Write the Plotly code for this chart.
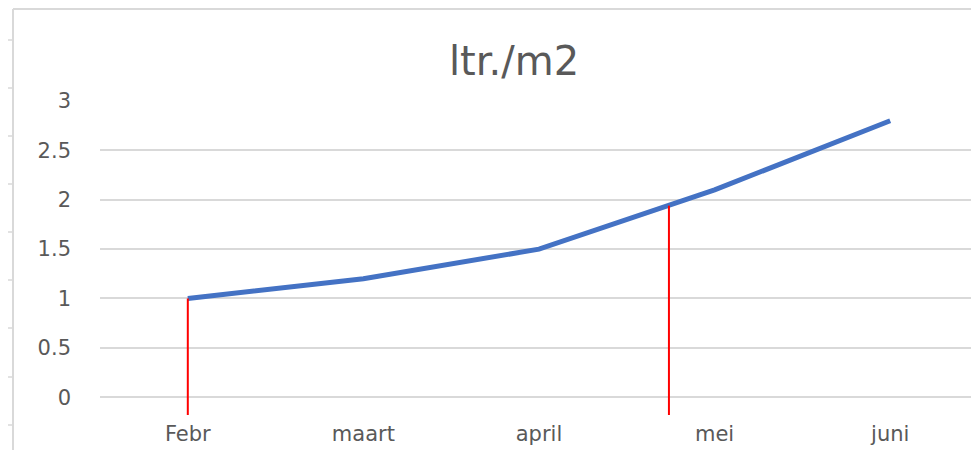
import plotly.graph_objects as go

# chart data
months = ["Febr", "maart", "april", "mei", "juni"]
ltr_per_m2 = [1.0, 1.2, 1.5, 2.1, 2.8]

# red drop lines (position on the category axis, value)
drop_x = [0.0, 2.74]
drop_y = [1.0, 1.94]

y_ticks = [0, 0.5, 1, 1.5, 2, 2.5, 3]
y_bottom = -0.18

# page has an 8px body margin, so the figure is laid out 8px in
OFF = 8
W, H = 979 - OFF, 450 - OFF
L, R, T, B = 100 - OFF, 1, 101 - OFF, 35
grid_col = "#D9D9D9"
txt_col = "#595959"
font_fam = "DejaVu Sans"


def px_x(p):
    return (p - OFF - L) / (W - L - R)


def px_y(p):
    return 1 - (p - OFF - T) / (H - T - B)


fig = go.Figure()

fig.add_trace(go.Scatter(
    x=list(range(len(months))), y=ltr_per_m2, mode="lines",
    line=dict(color="#4472C4", width=5), showlegend=False, hoverinfo="y"))

# drop lines from the curve down below the axis
dx, dy = [], []
for xv, yv in zip(drop_x, drop_y):
    dx += [xv, xv, None]
    dy += [yv, y_bottom, None]
fig.add_trace(go.Scatter(x=dx, y=dy, mode="lines",
                         line=dict(color="#FF0000", width=2),
                         showlegend=False, hoverinfo="skip"))

# screenshot frame: sheet column lines, chart border, row ticks
shapes = []
for cx in [175, 343, 512, 680, 848]:
    shapes.append(dict(type="line", xref="paper", yref="paper",
                       x0=px_x(cx), x1=px_x(cx), y0=px_y(0), y1=px_y(9),
                       line=dict(color=grid_col, width=2)))
shapes.append(dict(type="line", xref="paper", yref="paper",
                   x0=px_x(13), x1=px_x(979), y0=px_y(9), y1=px_y(9),
                   line=dict(color=grid_col, width=2)))
shapes.append(dict(type="line", xref="paper", yref="paper",
                   x0=px_x(13), x1=px_x(13), y0=px_y(9), y1=px_y(450),
                   line=dict(color=grid_col, width=2)))
for ry in [40, 88, 136, 184, 232, 280, 328, 377, 425]:
    shapes.append(dict(type="line", xref="paper", yref="paper",
                       x0=px_x(7), x1=px_x(13), y0=px_y(ry), y1=px_y(ry),
                       line=dict(color=grid_col, width=1.5)))

fig.update_layout(
    width=W, height=H,
    margin=dict(l=L, r=R, t=T, b=B),
    paper_bgcolor="white", plot_bgcolor="white",
    font=dict(family=font_fam, color=txt_col, size=21),
    title=dict(text="ltr./m2", x=(514 - OFF) / W, xref="container",
               xanchor="center", y=1 - (61 - OFF) / H, yanchor="middle",
               font=dict(size=40, color=txt_col, family=font_fam)),
    shapes=shapes,
    xaxis=dict(range=[-0.5, 4.5], tickvals=list(range(len(months))),
               ticktext=months, showgrid=False, zeroline=False,
               showline=False, ticks="", ticklabelstandoff=4,
               tickfont=dict(size=21)),
    yaxis=dict(range=[y_bottom, 3], tickvals=y_ticks,
               ticktext=[f"{v:g}" for v in y_ticks],
               showgrid=True, gridcolor=grid_col, gridwidth=2,
               zeroline=False, showline=False, ticks="",
               ticklabelstandoff=28, tickfont=dict(size=21)),
)

fig.write_html("out.html")
